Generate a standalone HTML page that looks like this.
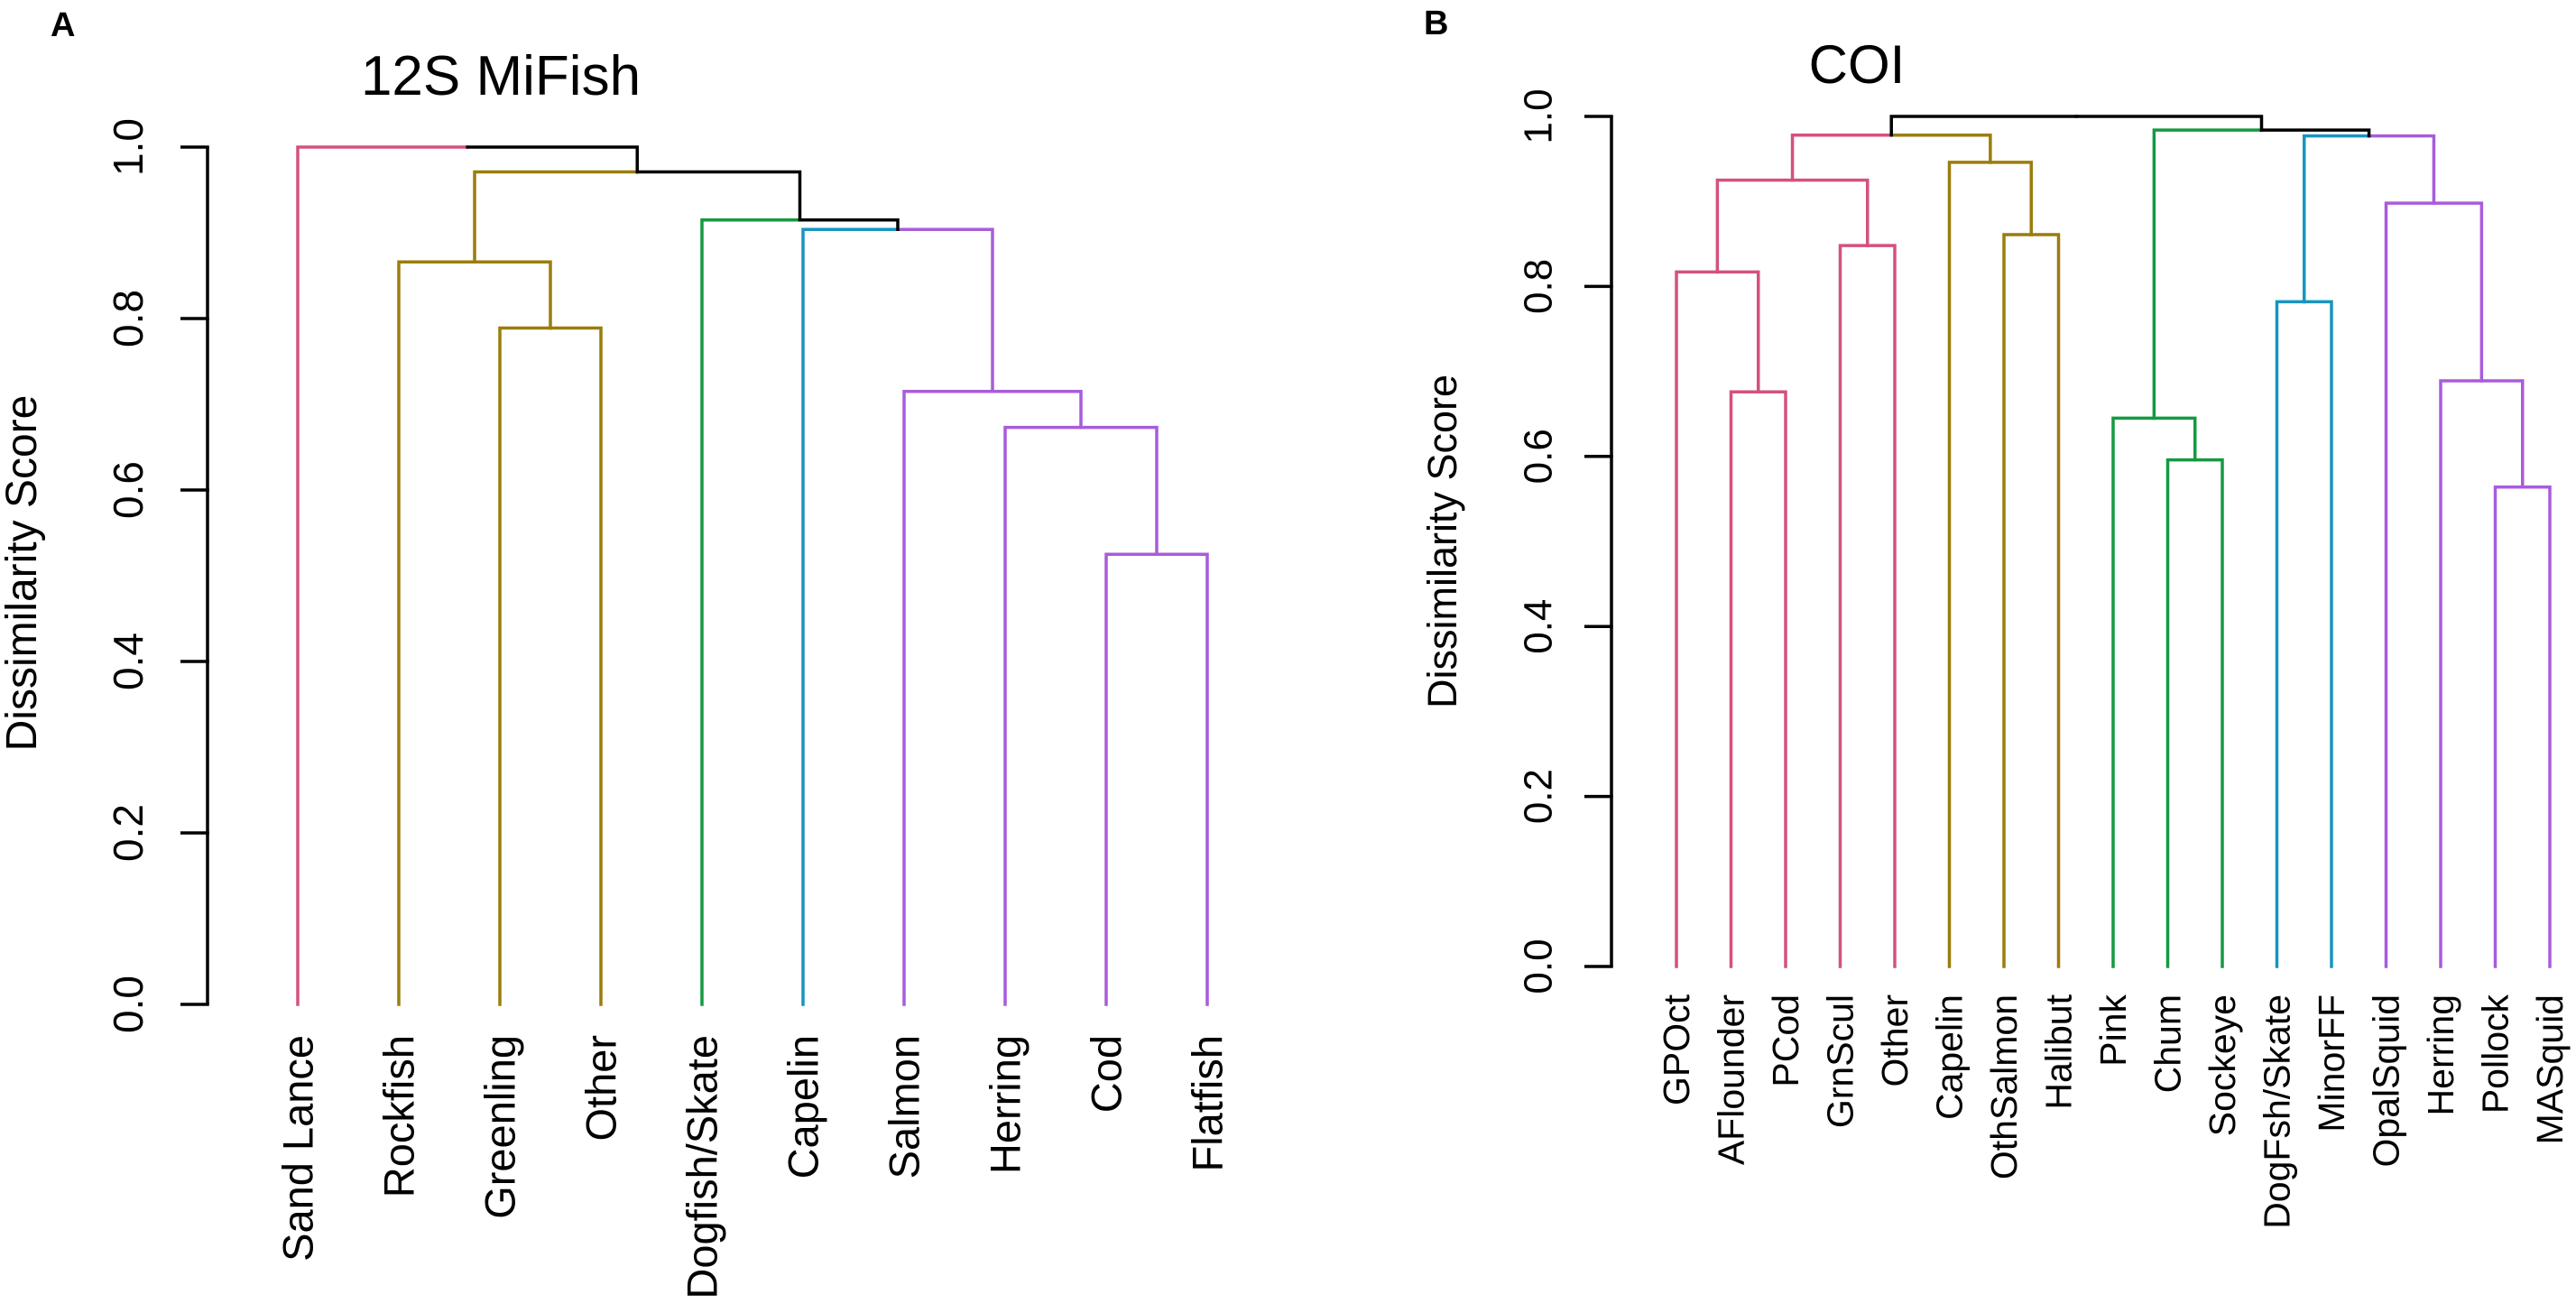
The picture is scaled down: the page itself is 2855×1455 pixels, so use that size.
<!DOCTYPE html>
<html>
<head>
<meta charset="utf-8">
<style>
html,body{margin:0;padding:0;background:#fff;}
svg{display:block;}
text{font-family:"Liberation Sans",Arial,sans-serif;fill:#000;}
</style>
</head>
<body>
<svg id="chart" width="2855" height="1455" viewBox="0 0 2855 1455" xmlns="http://www.w3.org/2000/svg">
  <rect width="2855" height="1455" fill="#fff"/>
  <text x="56" y="40" font-size="38" font-weight="bold">A</text>
  <text x="555" y="105" font-size="62" text-anchor="middle">12S MiFish</text>
  <text transform="translate(40,635) rotate(-90)" font-size="48" text-anchor="middle">Dissimilarity Score</text>
  <text x="1578" y="38" font-size="38" font-weight="bold">B</text>
  <text x="2058" y="92" font-size="60" text-anchor="middle">COI</text>
  <text transform="translate(1614,600) rotate(-90)" font-size="45" text-anchor="middle">Dissimilarity Score</text>
  <g id="panelA"></g>
  <g id="panelB"></g>
</svg>
<script>
// ---------- Panel A data (12S MiFish) ----------
const leavesA = ["Sand Lance","Rockfish","Greenling","Other","Dogfish/Skate","Capelin","Salmon","Herring","Cod","Flatfish"];
const clustersA = [0,1,1,1,2,3,4,4,4,4];
const mergeLeftA  = [-9,-8,-7,-6,-5,-3,-2, 7,-1];
const mergeRightA = [-10, 1, 2, 3, 4,-4, 6, 5, 8];
const heightsA = [0.525,0.673,0.715,0.904,0.915,0.789,0.866,0.971,1.0];
const ticksA = ["0.0","0.2","0.4","0.6","0.8","1.0"];

// ---------- Panel B data (COI) ----------
const leavesB = ["GPOct","AFlounder","PCod","GrnScul","Other","Capelin","OthSalmon","Halibut","Pink","Chum","Sockeye","DogFsh/Skate","MinorFF","OpalSquid","Herring","Pollock","MASquid"];
const clustersB = [0,0,0,0,0,1,1,1,2,2,2,3,3,4,4,4,4];
const mergeLeftB  = [-2,-1,-4,2,-7,-6,4,-10,-9,-12,-16,-15,-14,10,9,7];
const mergeRightB = [-3, 1,-5,3,-8, 5,6,-11, 8,-13,-17, 11, 12,13,14,15];
const heightsB = [0.676,0.817,0.848,0.925,0.861,0.946,0.978,0.596,0.645,0.782,0.564,0.689,0.898,0.977,0.984,1.0];
const ticksB = ["0.0","0.2","0.4","0.6","0.8","1.0"];

const palette = ["#d4517e","#9a7d0c","#149a42","#1895bf","#a95cdb"];
const NS = "http://www.w3.org/2000/svg";

function mk(tag, attrs, parent){
  const e = document.createElementNS(NS, tag);
  for (const k in attrs) e.setAttribute(k, attrs[k]);
  parent.appendChild(e);
  return e;
}

function drawPanel(g, cfg, leaves, clusters, mL, mR, heights, ticks, prefix){
  const yS = v => cfg.y0 - (cfg.y0 - cfg.y1) * v;
  const xS = i => cfg.x0 + cfg.dx * i;
  const axis = mk("path", {d:`M${cfg.ax},${yS(0)} L${cfg.ax},${yS(1)}`, stroke:"#000","stroke-width":3.5, fill:"none"}, g);
  
  
  ticks.forEach(t => {
    const v = parseFloat(t);
    const tk = mk("line", {x1:cfg.ax-30, x2:cfg.ax+1.75, y1:yS(v), y2:yS(v), stroke:"#000","stroke-width":3.5}, g);
    
    
    const tl = mk("text", {transform:`translate(${cfg.tlx},${yS(v)}) rotate(-90)`, "text-anchor":"middle", "dominant-baseline":"central", "font-size":cfg.tfs}, g);
    tl.textContent = t;
    
    
  });
  const nx = [], nh = [], nc = [];
  function info(id){
    if (id < 0){ const i = -id-1; return {x:xS(i), h:0, c:clusters[i]}; }
    return {x:nx[id-1], h:nh[id-1], c:nc[id-1]};
  }
  for (let k = 0; k < heights.length; k++){
    const a = info(mL[k]), b = info(mR[k]);
    const x = (a.x + b.x)/2, h = heights[k];
    nx.push(x); nh.push(h); nc.push(a.c === b.c ? a.c : -1);
    [a,b].forEach(ch => {
      const col = ch.c >= 0 ? palette[ch.c] : "#000";
      const p = mk("path", {d:`M${ch.x},${yS(ch.h)} L${ch.x},${yS(h)} L${x},${yS(h)}`, stroke:col, "stroke-width":3.5, fill:"none", "stroke-linejoin":"miter", "stroke-linecap":"square"}, g);
      
      
    });
  }
  leaves.forEach((name,i) => {
    const t = mk("text", {transform:`translate(${xS(i)},${cfg.ly}) rotate(-90)`, "text-anchor":"end", "dominant-baseline":"central", "font-size":cfg.lfs}, g);
    t.textContent = name;
    
    
  });
}

drawPanel(document.getElementById("panelA"),
  {ax:230, x0:330, dx:112, y0:1113, y1:163, tlx:142, tfs:46, ly:1147, lfs:47},
  leavesA, clustersA, mergeLeftA, mergeRightA, heightsA, ticksA, "panel-a");
drawPanel(document.getElementById("panelB"),
  {ax:1786, x0:1858, dx:60.5, y0:1071, y1:129, tlx:1705, tfs:44, ly:1102, lfs:41},
  leavesB, clustersB, mergeLeftB, mergeRightB, heightsB, ticksB, "panel-b");
</script>
</body>
</html>
